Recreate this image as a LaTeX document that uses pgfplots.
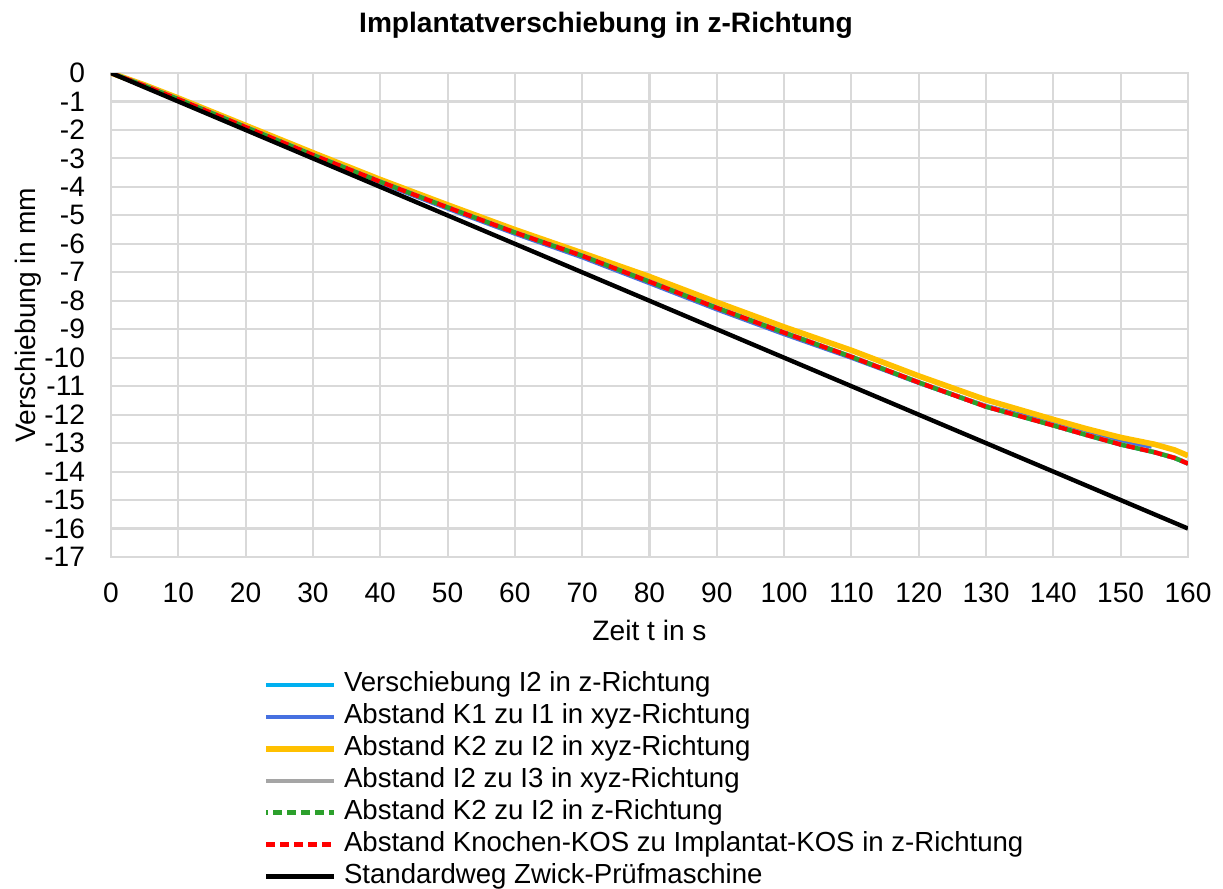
\documentclass[border=0pt]{standalone}
\usepackage{fontspec}
\setmainfont{Liberation Sans}
\usepackage{pgfplots}
\pgfplotsset{compat=1.18}

\definecolor{gridgray}{HTML}{D9D9D9}
\definecolor{cLightBlue}{HTML}{00B0F0}
\definecolor{cBlue}{HTML}{4670E0}
\definecolor{cYellow}{HTML}{FFC000}
\definecolor{cGray}{HTML}{A5A5A5}
\definecolor{cGreen}{HTML}{2CA02C}
\definecolor{cRed}{HTML}{FF0000}

\begin{document}
\begin{tikzpicture}[font=\fontsize{8}{9.6}\selectfont]
\useasboundingbox (-1.11cm,-3.31cm) rectangle ++(12.23cm,8.88cm);
\begin{axis}[
  at={(0,0)}, anchor=south west,
  scale only axis,
  width=10.77cm, height=4.84cm,
  xmin=0, xmax=160, ymin=-17, ymax=0,
  xtick={0,10,...,160},
  ytick={-17,-16,...,0},
  /pgf/number format/assume math mode=true,
  grid=major,
  major grid style={gridgray, line width=0.6pt},
  axis line style={gridgray, line width=0.6pt},
  major tick length=0pt,
  tick label style={font=\fontsize{8}{9.6}\selectfont},
  xticklabel style={yshift=-0.136cm},
  yticklabel style={xshift=-0.136cm},
  xlabel={Zeit t in s},
  ylabel={Verschiebung in mm},
  xlabel style={at={(axis description cs:0.5,-0.151)}, anchor=center},
  ylabel style={at={(axis description cs:-0.077,0.5)}, anchor=center},
  legend cell align=left,
  legend style={draw=none, fill=none, inner sep=0pt, outer sep=0pt,
    at={(axis description cs:0.1415,-0.2315)}, anchor=north west,
    row sep=0pt, column sep=0.07cm,
    nodes={inner sep=0pt, text height=6.5pt, text depth=2.58pt},
    font=\fontsize{7.85}{9.4}\selectfont},
  legend image code/.code={\draw[#1] (0cm,0cm) -- (0.68cm,0cm);},
]

% Verschiebung I2 in z-Richtung
\addplot[cLightBlue, line width=1.25pt] coordinates {
 (0,0) (5,-0.45) (10,-0.92) (20,-1.9) (30,-2.88) (40,-3.82) (50,-4.72)
 (60,-5.6) (70,-6.42) (80,-7.33) (90,-8.25) (100,-9.12) (110,-9.97)
 (120,-10.87) (130,-11.72) (140,-12.38) (145,-12.72) (150,-13.05)
 (155,-13.32) (158,-13.52) (160,-13.72)};
\addlegendentry{Verschiebung I2 in z-Richtung}

% Abstand K1 zu I1 (xyz)
\addplot[cBlue, line width=1.25pt] coordinates {
 (0,0) (5,-0.46) (10,-0.94) (20,-1.92) (30,-2.9) (40,-3.85) (50,-4.76)
 (60,-5.64) (70,-6.47) (80,-7.38) (90,-8.3) (100,-9.17) (110,-10.0)
 (120,-10.88) (130,-11.7) (140,-12.3) (145,-12.62) (150,-12.93)
 (154.6,-13.12)};
\addlegendentry{Abstand K1 zu I1 in xyz-Richtung}

% Abstand K2 zu I2 (xyz)
\addplot[cYellow, line width=1.6pt] coordinates {
 (0,0) (5,-0.42) (10,-0.88) (20,-1.84) (30,-2.8) (40,-3.74) (50,-4.63)
 (60,-5.5) (70,-6.32) (80,-7.15) (90,-8.05) (100,-8.92) (110,-9.74)
 (120,-10.64) (130,-11.48) (140,-12.17) (145,-12.5) (150,-12.8)
 (155,-13.04) (158,-13.24) (160,-13.44)};
\addlegendentry{Abstand K2 zu I2 in xyz-Richtung}

% Abstand I2 zu I3 (xyz)
\addplot[cGray, line width=1.25pt] coordinates {
 (0,0) (5,-0.44) (10,-0.91) (20,-1.89) (30,-2.87) (40,-3.81) (50,-4.71)
 (60,-5.59) (70,-6.41) (80,-7.32) (90,-8.24) (100,-9.11) (110,-9.96)
 (120,-10.86) (130,-11.71) (140,-12.37) (145,-12.71) (150,-13.04)
 (155,-13.31) (158,-13.51) (160,-13.71)};
\addlegendentry{Abstand I2 zu I3 in xyz-Richtung}

% Abstand K2 zu I2 (z)
\addplot[cGreen, line width=1.25pt, dash pattern=on 2.4pt off 1.6pt, dash phase=2pt] coordinates {
 (0,0) (5,-0.45) (10,-0.92) (20,-1.9) (30,-2.88) (40,-3.82) (50,-4.72)
 (60,-5.6) (70,-6.42) (80,-7.33) (90,-8.25) (100,-9.12) (110,-9.97)
 (120,-10.87) (130,-11.72) (140,-12.38) (145,-12.72) (150,-13.05)
 (155,-13.32) (158,-13.52) (160,-13.72)};
\addlegendentry{Abstand K2 zu I2 in z-Richtung}

% Abstand Knochen-KOS zu Implantat-KOS (z)
\addplot[cRed, line width=1.25pt, dash pattern=on 2.4pt off 1.6pt] coordinates {
 (0,0) (5,-0.45) (10,-0.92) (20,-1.9) (30,-2.88) (40,-3.82) (50,-4.72)
 (60,-5.6) (70,-6.42) (80,-7.33) (90,-8.25) (100,-9.12) (110,-9.97)
 (120,-10.87) (130,-11.72) (140,-12.38) (145,-12.72) (150,-13.05)
 (155,-13.32) (158,-13.52) (160,-13.72)};
\addlegendentry{Abstand Knochen-KOS zu Implantat-KOS in z-Richtung}

% Standardweg der Pruefmaschine
\addplot[black, line width=1.25pt] coordinates {
 (0,0) (80,-8) (160,-16)};
\addlegendentry{Standardweg Zwick-Prüfmaschine}

\end{axis}
\node[font=\bfseries\fontsize{8}{9.6}\selectfont] at (4.95cm,5.32cm) {Implantatverschiebung in z-Richtung};
\end{tikzpicture}
\end{document}
